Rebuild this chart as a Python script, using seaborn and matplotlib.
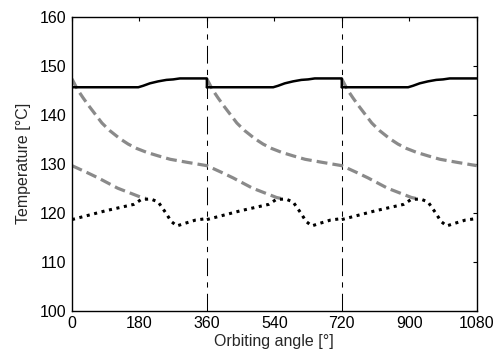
import numpy as np
import pandas as pd
import matplotlib
matplotlib.use("Agg")
import matplotlib.pyplot as plt
import seaborn as sns

# ---- data (one orbit period) ----
period_starts = [0, 360, 720]

# solid black curve, relative angle within one orbit
solid_angle = [0, 177, 190, 208, 230, 252, 270, 288, 360, 360]
solid_temp = [145.6, 145.6, 145.9, 146.4, 146.8, 147.1, 147.2, 147.4, 147.4, 145.6]

# gray dashed curve: one trace starting at the beginning of each orbit
dash_angle = [0, 15, 30, 45, 60, 80, 100, 128, 150, 173, 200, 230, 262, 306, 360,
              400, 430, 482, 546, 558]
dash_temp = [147.3, 145.1, 143.4, 141.8, 140.3, 138.3, 136.8, 135.1, 134.0, 133.1,
             132.3, 131.6, 130.9, 130.3, 129.6, 128.2, 127.1, 125.0, 123.1, 122.9]
dash_starts = [-360, 0, 360, 720]

# dotted black curve, relative angle within one orbit
dot_angle = [0, 90, 165, 185, 210, 230, 250, 265, 280, 300, 330, 360]
dot_temp = [118.6, 120.4, 121.7, 122.7, 122.8, 122.2, 120.0, 118.2, 117.3, 117.8, 118.5, 118.8]

vlines = [360, 720]
xticks = [0, 180, 360, 540, 720, 900, 1080]
yticks = [100, 110, 120, 130, 140, 150, 160]

# ---- build tables ----
def build(angles, temps, starts, lo=0, hi=1080):
    rows = []
    for s in starts:
        for a, t in zip(angles, temps):
            x = a + s
            if lo <= x <= hi:
                rows.append((s, x, t))
    df = pd.DataFrame(rows, columns=["unit", "angle", "temp"])
    # at the right edge keep only the first value (no drop drawn at the border)
    edge = df["angle"] == hi
    df = pd.concat([df[~edge], df[edge].drop_duplicates(subset=["unit", "angle"], keep="first")])
    return df.sort_index()

df_solid = build(solid_angle, solid_temp, period_starts)
df_dash = build(dash_angle, dash_temp, dash_starts)
df_dot = build(dot_angle, dot_temp, period_starts)

sns.set_style("white")
plt.rcParams["font.family"] = ["Liberation Sans", "DejaVu Sans"]
plt.rcParams["xtick.direction"] = "in"
plt.rcParams["ytick.direction"] = "in"

fig = plt.figure(figsize=(4.94, 3.58), dpi=100)
ax = fig.add_axes([0.1457, 0.1321, 0.8193, 0.8213])

for v in vlines:
    ax.axvline(v, color="black", lw=0.75, linestyle=(0, (17, 6, 5, 6)), zorder=1)

sns.lineplot(data=df_dash, x="angle", y="temp", units="unit", estimator=None,
             color="#8a8a8a", lw=2.3, ax=ax, sort=False)
for l in ax.lines[-len(df_dash["unit"].unique()):]:
    l.set_linestyle((0, (3.4, 1.6)))
sns.lineplot(data=df_solid, x="angle", y="temp", units="unit", estimator=None,
             color="black", lw=1.8, ax=ax, sort=False)
n_before = len(ax.lines)
sns.lineplot(data=df_dot, x="angle", y="temp", units="unit", estimator=None,
             color="black", lw=2.2, ax=ax, sort=False)
for l in ax.lines[n_before:]:
    l.set_linestyle((0, (1, 1.5)))

ax.set_xlim(0, 1080)
ax.set_ylim(100, 160)
ax.set_xticks(xticks)
ax.set_yticks(yticks)
ax.tick_params(axis="both", which="both", direction="in", length=3, width=0.8,
               top=True, right=True, labelsize=11.5, colors="black", pad=4)
for sp in ax.spines.values():
    sp.set_visible(True)
    sp.set_color("black")
    sp.set_linewidth(1.0)
ax.set_xlabel("Orbiting angle [°]", fontsize=11.5, labelpad=2)
ax.set_ylabel("Temperature [°C]", fontsize=11.5, labelpad=6)

fig.savefig("out.png", dpi=100)
